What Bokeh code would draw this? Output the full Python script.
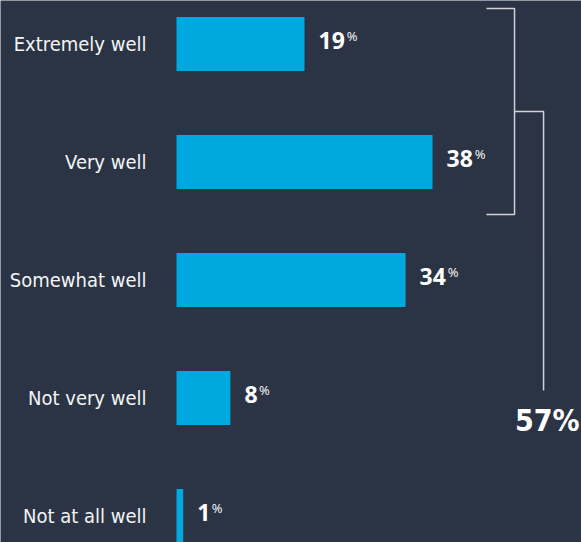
from bokeh.plotting import figure
from bokeh.models import Range1d, ColumnDataSource
from bokeh.core.properties import value
from bokeh.embed import file_html
from bokeh.resources import INLINE

categories = ["Extremely well", "Very well", "Somewhat well", "Not very well", "Not at all well"]
values = [19, 38, 34, 8, 1]
value_labels = ["19", "38", "34", "8", "1"]
summary_label = "57%"

BG = "#2b3444"
BAR = "#00a8e0"
LINE = "#cfd2d6"
NARROW = value("DejaVu Sans Condensed")

ypos = list(range(len(categories)))
pct_off = [14 + len(s) * 13.6 + 1 for s in value_labels]

src = ColumnDataSource(dict(y=ypos, v=values, cat=categories, lab=value_labels,
                            pct=["%"] * len(values), pct_off=pct_off))

p = figure(width=581, height=542, output_backend="svg", toolbar_location=None,
           x_range=Range1d(-26.12, 60.11), y_range=Range1d(4.2246, -0.3686),
           x_axis_location=None, y_axis_location=None, min_border=0,
           background_fill_color=BG, border_fill_color=BG)
p.grid.visible = False
p.outline_line_color = None

p.hbar(y="y", left=0, right="v", height=0.4576, source=src,
       fill_color=BAR, line_color=None)

p.text(x=0, y="y", text="cat", source=src, x_offset=-30,
       text_align="right", text_baseline="middle",
       text_font=NARROW, text_font_size="20px", text_color="#f3f4f5")

p.text(x="v", y="y", text="lab", source=src, x_offset=14, y_offset=-3,
       text_align="left", text_baseline="middle",
       text_font=value("Open Sans"), text_font_style="bold",
       text_font_size="23px", text_color="#ffffff")

p.text(x="v", y="y", text="pct", source=src, x_offset="pct_off", y_offset=-17,
       text_align="left", text_baseline="top",
       text_font=value("Open Sans"), text_font_size="13px", text_color="#ffffff")

# bracket grouping the two top categories
top_i, bot_i = ypos[0], ypos[1]
y_top, y_bot = top_i - 0.301, bot_i + 0.445
y_mid = (y_top + y_bot) / 2
x_in0, x_in1, x_out = 46.0, 50.17, 54.48
y_end = 2.936

p.line(x=[x_in0, x_in1, x_in1, x_in0], y=[y_top, y_top, y_bot, y_bot],
       line_color=LINE, line_width=1.5)
p.line(x=[x_in1, x_out, x_out], y=[y_mid, y_mid, y_end],
       line_color=LINE, line_width=1.5)

p.text(x=[x_out], y=[y_end], text=[summary_label], x_offset=36, y_offset=13,
       text_align="right", text_baseline="top",
       text_font=NARROW, text_font_style="bold", text_font_size="30px",
       text_color="#ffffff")

open("out.html", "w").write(file_html(p, INLINE))
